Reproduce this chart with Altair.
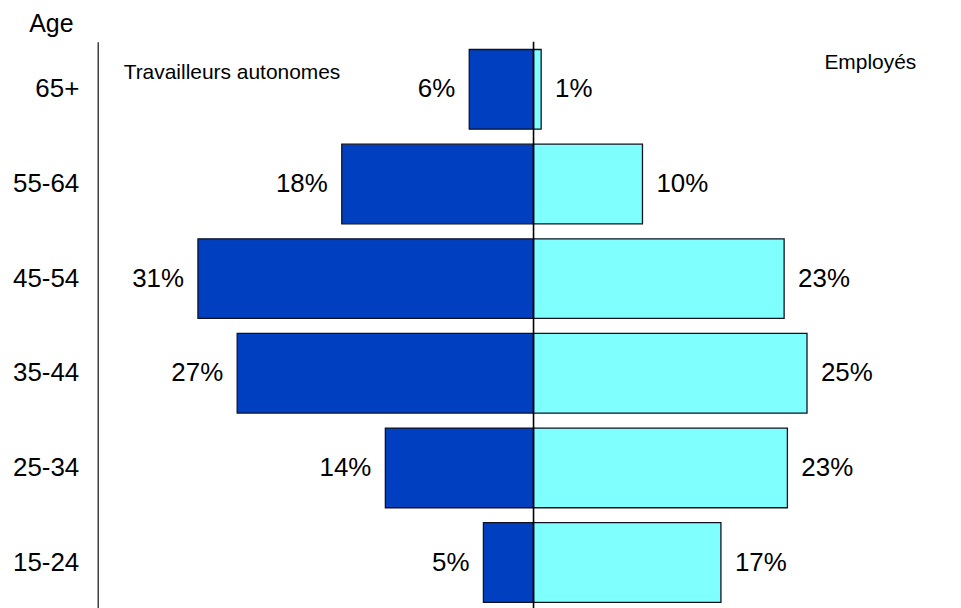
import altair as alt
import pandas as pd

ages = ["65+", "55-64", "45-54", "35-44", "25-34", "15-24"]
autonomes = [5.9, 17.6, 30.8, 27.2, 13.6, 4.6]
employes = [0.7, 10.0, 23.0, 25.1, 23.3, 17.2]

FONT = "Liberation Sans"

rows = []
for a, l, r in zip(ages, autonomes, employes):
    rows.append({"age": a, "groupe": "Travailleurs autonomes", "x": -l, "label": f"{round(l)}%"})
    rows.append({"age": a, "groupe": "Employés", "x": r, "label": f"{round(r)}%"})
df = pd.DataFrame(rows)

xscale = alt.Scale(domain=[-40, 38.5], nice=False, zero=False)
yscale = alt.Scale(paddingInner=15 / 95, paddingOuter=0.081)

base = alt.Chart(df).encode(
    y=alt.Y(
        "age:N",
        sort=ages,
        scale=yscale,
        axis=alt.Axis(
            title="Age",
            titleAngle=0,
            titleX=-47,
            titleY=-10,
            titleAlign="center",
            titleBaseline="alphabetic",
            titleFont=FONT,
            titleFontSize=25,
            titleFontWeight="normal",
            titleColor="#000",
            labelFont=FONT,
            labelFontSize=26,
            labelColor="#000",
            labelPadding=19,
            ticks=False,
            domainColor="#222",
            domainWidth=1.3,
            grid=False,
        ),
    ),
)

bars = base.mark_bar(stroke="#111122", strokeWidth=1.3).encode(
    x=alt.X("x:Q", scale=xscale, axis=None),
    x2=alt.datum(0),
    color=alt.Color(
        "groupe:N",
        scale=alt.Scale(domain=["Travailleurs autonomes", "Employés"], range=["#0040C0", "#80FFFF"]),
        legend=None,
    ),
)

left_text = base.transform_filter(alt.datum.x < 0).mark_text(
    align="right", baseline="middle", dx=-14, font=FONT, fontSize=26, color="#000"
).encode(x=alt.X("x:Q", scale=xscale, axis=None), text="label:N")

right_text = base.transform_filter(alt.datum.x >= 0).mark_text(
    align="left", baseline="middle", dx=14, font=FONT, fontSize=26, color="#000"
).encode(x=alt.X("x:Q", scale=xscale, axis=None), text="label:N")

center = alt.Chart(pd.DataFrame({"z": [0]})).mark_rule(color="#000", strokeWidth=1.6).encode(
    x=alt.X("z:Q", scale=xscale, axis=None)
)

ann = pd.DataFrame({"t": ["Travailleurs autonomes"]})
ann_left = alt.Chart(ann).mark_text(
    align="left", baseline="alphabetic", font=FONT, fontSize=21, color="#000"
).encode(x=alt.value(26), y=alt.value(37), text="t:N")

ann2 = pd.DataFrame({"t": ["Employés"]})
ann_right = alt.Chart(ann2).mark_text(
    align="left", baseline="alphabetic", font=FONT, fontSize=21, color="#000"
).encode(x=alt.value(729), y=alt.value(27), text="t:N")

chart = (
    alt.layer(bars, center, left_text, right_text, ann_left, ann_right)
    .properties(
        width=858,
        height=570,
        autosize=alt.AutoSizeParams(type="none"),
        padding={"left": 90, "top": 33, "right": 0, "bottom": 0},
        background="white",
    )
    .configure_view(stroke=None)
)

chart.save("out.html", embed_options={"renderer": "svg", "actions": False})
